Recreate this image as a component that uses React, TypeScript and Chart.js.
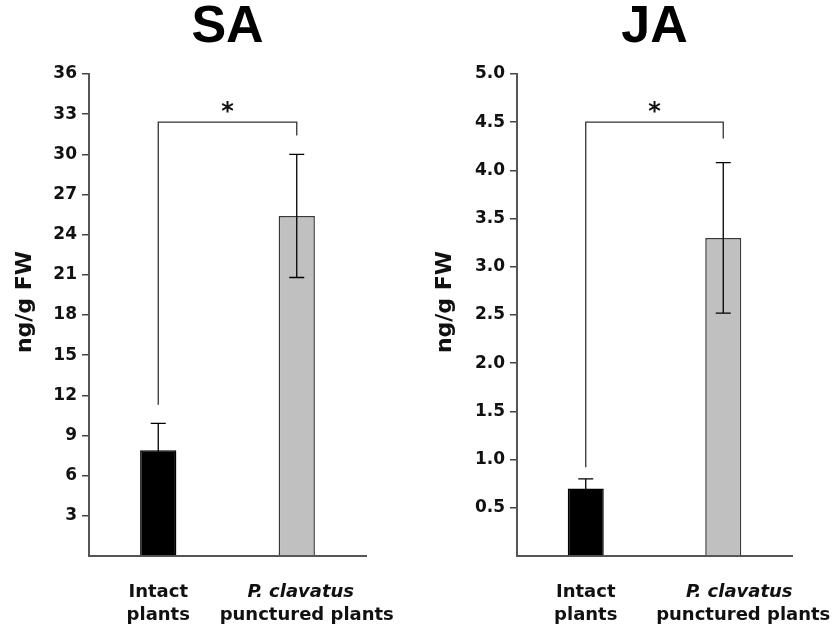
import React, { useEffect, useRef } from "react";
import { Chart, registerables } from "chart.js";

Chart.register(...registerables);

// ---- data ----
const categories = ["Intact plants", "P. clavatus punctured plants"];
const labelLine1 = ["Intact", "P. clavatus"];
const labelLine2 = ["plants", "punctured plants"];
const labelItalic1 = [false, true];

const saTitle = "SA";
const saMeans = [7.9, 25.4];
const saErrors = [2.0, 4.6];
const saMax = 36;
const saStep = 3;
const saBracket = [32.4, 11.3, 31.4]; // level, left drop end, right drop end

const jaTitle = "JA";
const jaMeans = [0.7, 3.3];
const jaErrors = [0.1, 0.78];
const jaMax = 5;
const jaStep = 0.5;
const jaBracket = [4.5, 0.92, 4.33];

const yTitle = "ng/g FW";
const sigMark = "*";
const barColors = ["#000000", "#c0c0c0"];
const barBorders = ["#000000", "#3a3a3a"];

const FONT = "'DejaVu Sans', sans-serif";

type PanelProps = {
  title: string;
  means: number[];
  errors: number[];
  max: number;
  step: number;
  bracket: number[];
  decimals: number;
  leftW: number;
  rightPad: number;
  line1Off: number[];
  line2Off: number[];
  left: number;
};

function Panel(p: PanelProps) {
  const ref = useRef<HTMLCanvasElement | null>(null);
  useEffect(() => {
    if (!ref.current) return;
    const overlay = {
      id: "overlay",
      afterDatasetsDraw(chart: any) {
        const ctx = chart.ctx;
        const ys = chart.scales.y;
        const meta = chart.getDatasetMeta(0);
        ctx.save();
        ctx.strokeStyle = "#000";
        ctx.lineWidth = 1.3;
        // error bars
        meta.data.forEach((bar: any, i: number) => {
          const x = bar.x;
          const t = ys.getPixelForValue(p.means[i] + p.errors[i]);
          const b = ys.getPixelForValue(p.means[i] - p.errors[i]);
          ctx.beginPath();
          ctx.moveTo(x, t);
          ctx.lineTo(x, b);
          ctx.moveTo(x - 7.5, t);
          ctx.lineTo(x + 7.5, t);
          ctx.moveTo(x - 7.5, b);
          ctx.lineTo(x + 7.5, b);
          ctx.stroke();
        });
        // significance bracket
        ctx.strokeStyle = "#333";
        const x0 = meta.data[0].x;
        const x1 = meta.data[1].x;
        const yl = ys.getPixelForValue(p.bracket[0]);
        const yA = ys.getPixelForValue(p.bracket[1]);
        const yB = ys.getPixelForValue(p.bracket[2]);
        ctx.beginPath();
        ctx.moveTo(x0, yA);
        ctx.lineTo(x0, yl);
        ctx.lineTo(x1, yl);
        ctx.lineTo(x1, yB);
        ctx.stroke();
        ctx.fillStyle = "#111";
        ctx.font = `bold 24px ${FONT}`;
        ctx.textAlign = "center";
        ctx.textBaseline = "alphabetic";
        ctx.fillText(sigMark, (x0 + x1) / 2, yl - 3);
        ctx.restore();
      },
      afterDraw(chart: any) {
        const ctx = chart.ctx;
        const area = chart.chartArea;
        const meta = chart.getDatasetMeta(0);
        ctx.save();
        ctx.fillStyle = "#111";
        ctx.textAlign = "center";
        ctx.textBaseline = "alphabetic";
        meta.data.forEach((bar: any, i: number) => {
          ctx.font = `${labelItalic1[i] ? "italic " : ""}bold 18px ${FONT}`;
          ctx.fillText(labelLine1[i], bar.x + p.line1Off[i], area.bottom + 41);
          ctx.font = `bold 18px ${FONT}`;
          ctx.fillText(labelLine2[i], bar.x + p.line2Off[i], area.bottom + 64);
        });
        // y axis title
        ctx.translate(25, (area.top + area.bottom) / 2 - 13);
        ctx.rotate(-Math.PI / 2);
        ctx.textBaseline = "middle";
        ctx.font = `bold 22px ${FONT}`;
        ctx.fillText(yTitle, 0, 0);
        ctx.restore();
      },
    };
    const chart = new Chart(ref.current, {
      type: "bar",
      data: {
        labels: categories,
        datasets: [
          {
            data: p.means,
            backgroundColor: barColors,
            borderColor: barBorders,
            borderWidth: 1.5,
            categoryPercentage: 1,
            barPercentage: 0.262,
          },
        ],
      },
      options: {
        animation: false,
        responsive: false,
        maintainAspectRatio: false,
        layout: { padding: { left: 0, right: p.rightPad, top: 0, bottom: 0 } },
        plugins: {
          legend: { display: false },
          tooltip: { enabled: false },
          title: {
            display: true,
            text: p.title,
            fullSize: false,
            color: "#000",
            font: { family: "'Liberation Sans', Arial, sans-serif", size: 52, weight: "bold", lineHeight: 1 },
            padding: { top: 2, bottom: 20 },
          },
        },
        scales: {
          x: {
            grid: { display: false },
            border: { display: true, color: "#555", width: 2 },
            ticks: { display: false },
            afterFit: (s: any) => {
              s.height = 81;
            },
          },
          y: {
            min: 0,
            max: p.max,
            ticks: {
              stepSize: p.step,
              color: "#111",
              padding: 5,
              font: { family: FONT, size: 17, weight: "bold" },
              callback: (v: any) => (Number(v) === 0 ? "" : Number(v).toFixed(p.decimals)),
            },
            grid: {
              drawOnChartArea: false,
              tickLength: 7,
              lineWidth: 1.5,
              color: (c: any) => (c.tick && c.tick.value === 0 ? "rgba(0,0,0,0)" : "#444"),
            },
            border: { color: "#555", width: 2 },
            afterFit: (s: any) => {
              s.width = p.leftW;
            },
          },
        },
      },
      plugins: [overlay],
    } as any);
    return () => chart.destroy();
  }, []);
  return (
    <canvas
      ref={ref}
      width={420}
      height={637}
      style={{ position: "absolute", left: p.left, top: 0, width: 420, height: 637 }}
    />
  );
}

export default function App() {
  return (
    <div style={{ position: "fixed", left: 0, top: 0, width: 840, height: 637, background: "#fff" }}>
      <Panel
        title={saTitle}
        means={saMeans}
        errors={saErrors}
        max={saMax}
        step={saStep}
        bracket={saBracket}
        decimals={0}
        leftW={89}
        rightPad={54}
        line1Off={[0, 4]}
        line2Off={[0, 10]}
        left={0}
      />
      <Panel
        title={jaTitle}
        means={jaMeans}
        errors={jaErrors}
        max={jaMax}
        step={jaStep}
        bracket={jaBracket}
        decimals={1}
        leftW={97}
        rightPad={48}
        line1Off={[0, 16]}
        line2Off={[0, 20]}
        left={420}
      />
    </div>
  );
}
